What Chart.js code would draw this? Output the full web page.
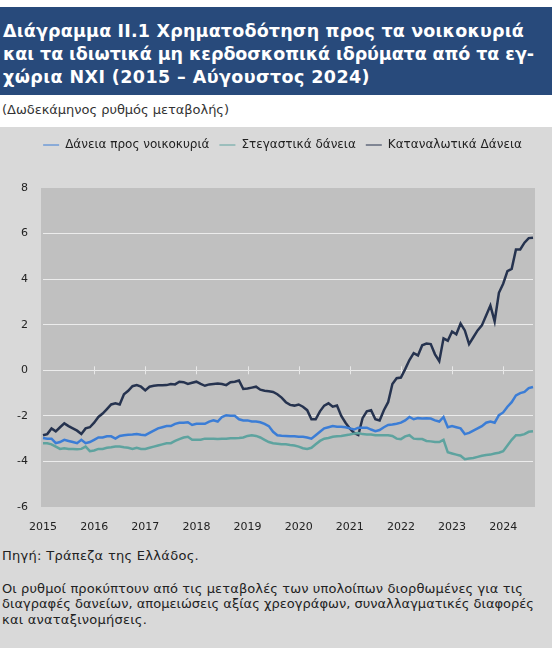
<!DOCTYPE html>
<html>
<head>
<meta charset="utf-8">
<script src="https://cdn.jsdelivr.net/npm/chart.js@4.4.1/dist/chart.umd.min.js"></script>
<style>
  body { margin: 0; width: 554px; height: 653px; background: #fff; position: relative; overflow: hidden; font-family: "DejaVu Sans", sans-serif; }
  #banner { position: absolute; left: 0; top: 7px; width: 552px; height: 88px; background: #284a7b; }
  #banner div { position: absolute; left: 3px; color: #fff; font-weight: bold; font-size: 17.5px; white-space: nowrap; line-height: 23px; }
  #sub { position: absolute; left: 2px; top: 102px; font-size: 13px; line-height: 16px; color: #333; white-space: nowrap; }
  #panel { position: absolute; left: 0; top: 127px; width: 552px; height: 521px; background: #d9d9d9; }
  #wrap { position: absolute; left: 0; top: 125px; width: 554px; height: 415px; }
  .note { position: absolute; left: 2px; font-size: 13px; color: #222; line-height: 16px; white-space: nowrap; }
</style>
</head>
<body>
<div id="banner">
  <div class="fit" data-right="524" style="top:13px">Διάγραμμα ΙΙ.1 Χρηματοδότηση προς τα νοικοκυριά</div>
  <div class="fit" data-right="534" style="top:36px">και τα ιδιωτικά μη κερδοσκοπικά ιδρύματα από τα εγ-</div>
  <div class="fit" data-right="370" style="top:59px">χώρια ΝΧΙ (2015 – Αύγουστος 2024)</div>
</div>
<div id="sub" class="fit" data-right="229">(Δωδεκάμηνος ρυθμός μεταβολής)</div>
<div id="panel"></div>
<div id="wrap"><canvas id="myChart"></canvas></div>
<div class="note fit" data-right="199" style="top:548px">Πηγή: Τράπεζα της Ελλάδος.</div>
<div class="note fit" data-right="523" style="top:581px">Οι ρυθμοί προκύπτουν από τις μεταβολές των υπολοίπων διορθωμένες για τις</div>
<div class="note fit" data-right="534" style="top:596px">διαγραφές δανείων, απομειώσεις αξίας χρεογράφων, συναλλαγματικές διαφορές</div>
<div class="note fit" data-right="147" style="top:612px">και αναταξινομήσεις.</div>
<script>
// squeeze / stretch text lines to the widths of the original
document.querySelectorAll('.fit').forEach(el => {
  const right = +el.dataset.right;
  const n = el.textContent.length;
  const r = el.getBoundingClientRect();
  el.style.letterSpacing = ((right - r.right) / n).toFixed(3) + 'px';
});

// monthly, Jan 2015 - Aug 2024
const years = [2015, 2016, 2017, 2018, 2019, 2020, 2021, 2022, 2023, 2024];
const lastMonth = 8;

const households = [
  -2.97, -3.0, -3.0, -3.2, -3.15, -3.05, -3.1, -3.15, -3.2, -3.05, -3.2, -3.15,
  -3.05, -2.95, -2.95, -2.9, -2.9, -3.0, -2.88, -2.85, -2.83, -2.82, -2.8, -2.83,
  -2.85, -2.75, -2.65, -2.55, -2.5, -2.45, -2.45, -2.35, -2.3, -2.3, -2.28, -2.4,
  -2.35, -2.35, -2.35, -2.25, -2.2, -2.25, -2.05, -1.97, -2.0, -2.0, -2.15, -2.2,
  -2.2, -2.25, -2.25, -2.28, -2.35, -2.45, -2.7, -2.85, -2.87, -2.88, -2.9, -2.9,
  -2.92, -2.92, -2.95, -3.0, -2.85, -2.7, -2.55, -2.5, -2.45, -2.48, -2.48, -2.5,
  -2.55, -2.6, -2.52, -2.52, -2.52, -2.6, -2.67, -2.62, -2.5, -2.4, -2.38, -2.35,
  -2.3, -2.2, -2.05, -2.15, -2.1, -2.12, -2.1, -2.12, -2.2, -2.25, -2.05, -2.5,
  -2.45, -2.5, -2.55, -2.8, -2.75, -2.65, -2.55, -2.45, -2.3, -2.25, -2.3, -1.97,
  -1.85, -1.6, -1.4, -1.1, -1.0, -0.95, -0.78, -0.73
];

const housing = [
  -3.2, -3.2, -3.25, -3.35, -3.45, -3.42, -3.45, -3.45, -3.47, -3.45, -3.35, -3.55,
  -3.52, -3.45, -3.45, -3.4, -3.38, -3.35, -3.35, -3.38, -3.4, -3.45, -3.4, -3.45,
  -3.45, -3.4, -3.35, -3.3, -3.25, -3.2, -3.2, -3.1, -3.02, -2.95, -2.92, -3.05,
  -3.05, -3.05, -3.0, -3.0, -3.0, -3.02, -3.0, -3.0, -2.98, -2.98, -2.97, -2.95,
  -2.88, -2.85, -2.88, -2.95, -3.05, -3.15, -3.2, -3.22, -3.25, -3.25, -3.28, -3.3,
  -3.35, -3.42, -3.45, -3.4, -3.25, -3.1, -3.0, -2.97, -2.92, -2.9, -2.88, -2.85,
  -2.82, -2.78, -2.75, -2.8, -2.82, -2.82, -2.85, -2.85, -2.85, -2.85, -2.88, -3.0,
  -3.02, -2.9, -2.85, -3.0, -3.02, -3.02, -3.1, -3.12, -3.15, -3.15, -3.05, -3.6,
  -3.65, -3.7, -3.75, -3.9, -3.87, -3.85, -3.8, -3.75, -3.72, -3.7, -3.65, -3.62,
  -3.55, -3.3, -3.05, -2.85, -2.85, -2.8, -2.7, -2.68
];

const consumer = [
  -2.85, -2.8, -2.55, -2.68, -2.5, -2.33, -2.45, -2.55, -2.65, -2.8, -2.55, -2.5,
  -2.3, -2.05, -1.9, -1.7, -1.5, -1.45, -1.5, -1.05, -0.9, -0.7, -0.65, -0.72,
  -0.88, -0.72, -0.68, -0.66, -0.66, -0.65, -0.6, -0.62, -0.5, -0.52, -0.6, -0.55,
  -0.5, -0.6, -0.68, -0.62, -0.6, -0.58, -0.6, -0.65, -0.52, -0.5, -0.45, -0.82,
  -0.8, -0.76, -0.72, -0.85, -0.9, -0.92, -0.95, -1.05, -1.2, -1.4, -1.52, -1.55,
  -1.5, -1.6, -1.75, -2.15, -2.15, -1.8, -1.55, -1.45, -1.6, -1.55, -2.0, -2.3,
  -2.55, -2.75, -2.84, -2.1, -1.8, -1.75, -2.15, -2.2, -1.75, -1.4, -0.6, -0.35,
  -0.32, 0.05, 0.45, 0.75, 0.65, 1.1, 1.17, 1.15, 0.7, 0.4, 1.4, 1.3,
  1.7, 1.58, 2.05, 1.75, 1.15, 1.45, 1.75, 1.97, 2.4, 2.84, 2.15, 3.4,
  3.8, 4.35, 4.45, 5.3, 5.3, 5.6, 5.8, 5.82
];

const seriesNames = ['Δάνεια προς νοικοκυριά', 'Στεγαστικά δάνεια', 'Καταναλωτικά Δάνεια'];
const yTicks = [8, 6, 4, 2, 0, -2, -4, -6];

const labels = [];
years.forEach(y => {
  for (let m = 1; m <= 12; m++) {
    if (y === years[years.length - 1] && m > lastMonth) break;
    labels.push(y + '-' + String(m).padStart(2, '0'));
  }
});

// grey plot background, a bit wider than the data
const plotBg = {
  id: 'plotBg',
  beforeDraw(chart) {
    const { ctx, chartArea: a } = chart;
    ctx.save();
    ctx.fillStyle = '#c0c0c0';
    ctx.fillRect(a.left - 2, a.top, a.right - a.left + 4, a.bottom - a.top);
    ctx.restore();
  }
};

// small year ticks on the zero line
const zeroTicks = {
  id: 'zeroTicks',
  beforeDatasetsDraw(chart) {
    const { ctx, scales: { x, y } } = chart;
    const y0 = y.getPixelForValue(0);
    ctx.save();
    ctx.strokeStyle = '#e8e8e8';
    ctx.lineWidth = 1;
    labels.forEach((l, i) => {
      if (!l.endsWith('-01') || i === 0) return;
      const px = Math.round(x.getPixelForValue(i)) + 0.5;
      ctx.beginPath();
      ctx.moveTo(px, y0 - 4);
      ctx.lineTo(px, y0 + 4);
      ctx.stroke();
    });
    ctx.restore();
  }
};

// legend in the original sits a little right of centre
const legendShift = {
  id: 'legendShift',
  afterLayout(chart) {
    chart.legend.left += 16;
    chart.legend.right += 16;
  }
};

const ctx = document.querySelector('#myChart').getContext('2d');

const data = {
  labels,
  datasets: [
    { label: seriesNames[0], data: households, borderColor: '#3b7dd6', backgroundColor: '#3b7dd6' },
    { label: seriesNames[1], data: housing, borderColor: '#5ea39f', backgroundColor: '#5ea39f' },
    { label: seriesNames[2], data: consumer, borderColor: '#26334f', backgroundColor: '#26334f' },
  ],
};

const config = {
  type: 'line',
  data: data,
  options: {
    responsive: true,
    maintainAspectRatio: false,
    animation: false,
    layout: { padding: { top: 4, right: 21, left: 0, bottom: 0 } },
    elements: {
      line: { borderWidth: 2.5, tension: 0 },
      point: { radius: 0, pointStyle: 'line' },
    },
    plugins: {
      tooltip: { enabled: false },
      legend: {
        labels: {
          usePointStyle: true,
          pointStyleWidth: 16,
          font: { family: 'DejaVu Sans', size: 12 },
          color: '#222',
          padding: 10,
        },
      },
      // empty spacer between legend and plot
      subtitle: {
        display: true,
        text: '',
        weight: 500,
        font: { size: 10, lineHeight: 1 },
        padding: { top: 0, bottom: 17 },
      },
    },
    scales: {
      x: {
        grid: { display: false },
        border: { display: false },
        ticks: {
          autoSkip: false,
          maxRotation: 0,
          padding: 6,
          color: '#222',
          font: { family: 'DejaVu Sans', size: 11 },
          callback: function (value, index) {
            const l = labels[index];
            return l.endsWith('-01') ? l.slice(0, 4) : '';
          },
        },
        afterFit: function (scale) { scale.height = 33; },
      },
      y: {
        min: -6,
        max: 8,
        afterBuildTicks: function (scale) { scale.ticks = yTicks.map(v => ({ value: v })); },
        grid: {
          drawTicks: false,
          color: function (c) {
            return (c.tick.value === 8 || c.tick.value === -6) ? 'rgba(0,0,0,0)' : '#ececec';
          },
        },
        border: { display: false },
        ticks: {
          padding: 15,
          color: '#222',
          font: { family: 'DejaVu Sans', size: 11 },
        },
        afterFit: function (scale) { scale.width = 43; },
      },
    },
  },
  plugins: [plotBg, zeroTicks, legendShift],
};

const myChart = new Chart(ctx, config);
</script>
</body>
</html>
